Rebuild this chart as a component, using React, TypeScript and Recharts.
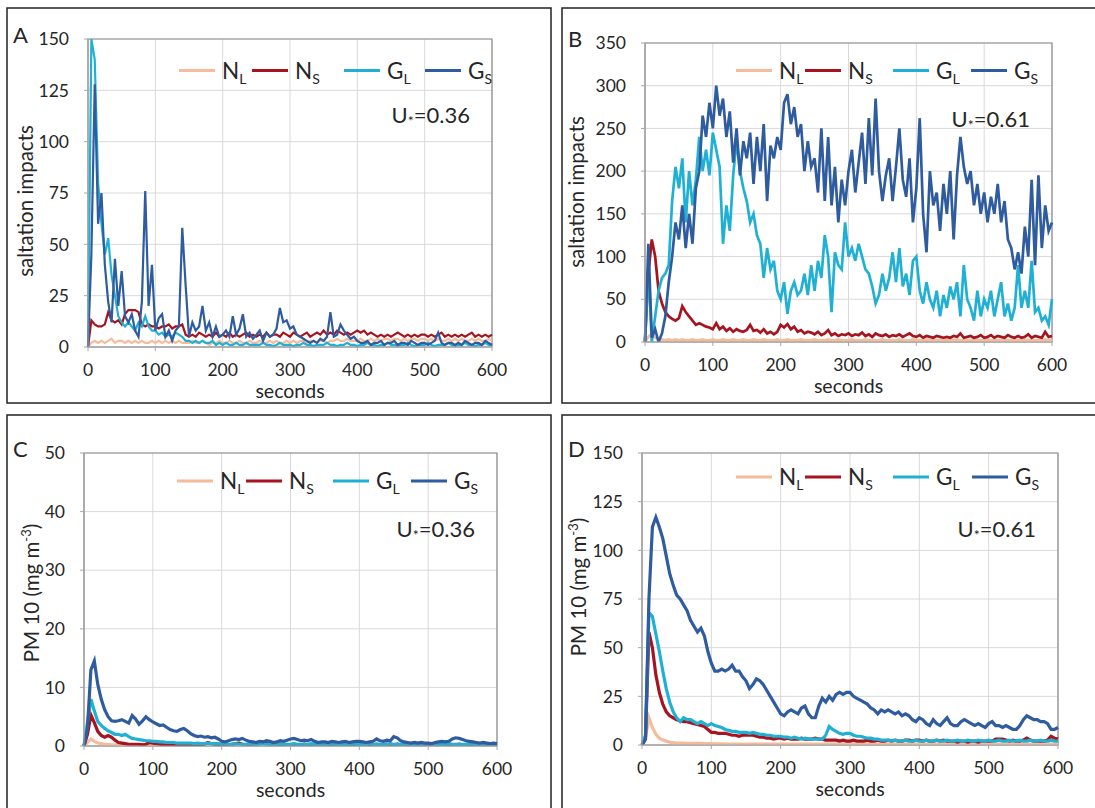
import { LineChart, Line, XAxis, YAxis, CartesianGrid, ReferenceArea } from 'recharts'

// sampled every 5 s, 0..600
const STEP = 5
const secondTicks = [0, 100, 200, 300, 400, 500, 600]

const seriesNames = ['N', 'N', 'G', 'G']
const seriesSubs = ['L', 'S', 'L', 'S']
const seriesColors = ['#F5BC9C', '#A6151F', '#20B0D4', '#2F5C9F']

// A: saltation impacts, U* = 0.36
const impactTicksA = [0, 25, 50, 75, 100, 125, 150]
const impactsA_NL = [
  0, 2, 3, 2, 3, 2, 3, 4, 2, 3,
  3, 2, 3, 2, 3, 2, 3, 2, 2, 3,
  2, 3, 2, 3, 2, 3, 2, 3, 2, 2,
  2, 3, 2, 2, 3, 2, 1, 2, 2, 3,
  2, 2, 3, 2, 2, 3, 2, 2, 3, 2,
  2, 3, 2, 2, 3, 2, 3, 2, 2, 3,
  2, 3, 2, 3, 3, 2, 3, 3, 2, 3,
  3, 2, 3, 3, 4, 3, 3, 4, 3, 3,
  3, 4, 3, 3, 4, 3, 4, 3, 4, 4,
  3, 4, 4, 3, 4, 3, 4, 4, 3, 4,
  4, 3, 4, 3, 4, 3, 3, 4, 3, 4,
  3, 4, 3, 3, 4, 3, 4, 3, 3, 4,
  3,
]
const impactsA_NS = [
  0, 13, 11, 10, 10, 11, 17, 13, 12, 13,
  11, 16, 18, 18, 18, 17, 11, 10, 11, 10,
  10, 9, 10, 10, 11, 9, 10, 10, 11, 6,
  5, 6, 5, 7, 6, 5, 6, 5, 7, 5,
  6, 5, 7, 5, 6, 5, 6, 7, 5, 6,
  5, 6, 5, 7, 5, 6, 6, 5, 7, 6,
  5, 7, 6, 5, 6, 7, 5, 6, 7, 6,
  8, 6, 7, 6, 8, 7, 6, 7, 6, 7,
  8, 7, 8, 6, 7, 6, 5, 6, 5, 6,
  5, 6, 7, 6, 5, 6, 5, 6, 5, 6,
  6, 5, 6, 5, 6, 7, 5, 6, 5, 6,
  5, 6, 5, 6, 7, 5, 6, 5, 6, 5,
  6,
]
const impactsA_GL = [
  0, 150, 140, 80, 60, 45, 53, 35, 25, 15,
  12, 10, 12, 10, 8, 12, 10, 15, 10, 8,
  8, 6, 7, 5, 6, 5, 7, 6, 5, 3,
  3, 2, 3, 2, 3, 2, 2, 3, 1, 2,
  1, 2, 1, 1, 2, 1, 1, 2, 1, 1,
  1, 1, 2, 1, 1, 0.5, 1, 2, 1, 1,
  1, 0.5, 1, 1, 2, 1, 1, 0.5, 1, 1,
  1, 2, 1, 1, 0.5, 1, 1, 2, 1, 1,
  0.5, 1, 1, 2, 1, 1, 0.5, 1, 1, 2,
  1, 1, 0.5, 1, 1, 2, 1, 0.5, 1, 1,
  1, 2, 1, 0.5, 1, 1, 1, 2, 1, 0.5,
  1, 1, 2, 1, 1, 0.5, 1, 1, 2, 1,
  1,
]
const impactsA_GS = [
  0, 45, 128, 60, 75, 40, 22, 12, 43, 20,
  37, 15, 12, 16, 8, 5, 22, 76, 20, 40,
  8, 14, 16, 5, 8, 3, 8, 10, 58, 30,
  5, 12, 8, 10, 20, 8, 12, 5, 10, 5,
  6, 8, 5, 15, 6, 9, 16, 5, 7, 4,
  6, 8, 3, 7, 5, 6, 9, 19, 12, 13,
  9, 10, 6, 5, 4, 3, 2, 3, 2, 4,
  3, 5, 17, 5, 6, 11, 8, 6, 4, 5,
  3, 2, 2, 3, 1, 2, 2, 3, 1, 2,
  2, 3, 1, 2, 2, 1, 3, 2, 1, 2,
  2, 1, 2, 3, 7, 2, 1, 2, 2, 1,
  2, 1, 3, 2, 1, 2, 2, 1, 3, 2,
  1,
]

// B: saltation impacts, U* = 0.61
const impactTicksB = [0, 50, 100, 150, 200, 250, 300, 350]
const impactsB_NL = [
  0, 6, 10, 5, 3, 3, 2, 3, 2, 3,
  2, 3, 2, 2, 3, 2, 2, 3, 2, 2,
  3, 2, 2, 3, 2, 2, 3, 2, 2, 3,
  2, 2, 3, 2, 2, 3, 2, 2, 2, 3,
  2, 2, 3, 2, 2, 2, 3, 2, 2, 2,
  3, 2, 2, 2, 3, 2, 2, 3, 2, 2,
  2, 3, 2, 2, 2, 3, 2, 2, 2, 2,
  3, 2, 2, 2, 2, 3, 2, 2, 2, 3,
  2, 2, 2, 3, 2, 2, 2, 2, 3, 2,
  2, 2, 3, 2, 2, 2, 2, 3, 2, 2,
  2, 3, 2, 2, 2, 2, 3, 2, 2, 2,
  2, 2, 3, 2, 2, 2, 2, 2, 3, 2,
  2,
]
const impactsB_NS = [
  0, 80, 120, 100, 60, 45, 35, 30, 27, 25,
  28, 42, 35, 30, 25, 20, 22, 20, 18, 17,
  15, 22, 15, 18, 13, 16, 12, 15, 13, 12,
  14, 20, 13, 14, 11, 15, 10, 12, 9, 12,
  20, 17, 21, 15, 18, 12, 14, 10, 12, 11,
  9, 12, 8, 10, 14, 8, 10, 7, 9, 8,
  10, 7, 9, 8, 11, 7, 9, 6, 10, 8,
  7, 9, 6, 8, 7, 9, 6, 8, 10, 7,
  6, 8, 5, 7, 6, 5, 7, 6, 5, 6,
  5, 7, 6, 10, 5, 6, 7, 5, 6, 8,
  5, 6, 8, 5, 7, 6, 5, 8, 6, 5,
  7, 5, 6, 9, 5, 7, 6, 5, 12, 6,
  7,
]
const impactsB_GL = [
  0, 90, 0, 30, 60, 75, 80, 90, 165, 205,
  180, 215, 140, 200, 160, 190, 240, 200, 225, 195,
  245, 225, 205, 115, 160, 130, 195, 236, 200, 180,
  165, 140, 150, 125, 115, 75, 110, 85, 95, 60,
  50, 70, 33, 60, 70, 55, 60, 80, 55, 90,
  60, 95, 75, 125, 100, 35, 105, 90, 85, 140,
  100, 110, 95, 115, 100, 85, 80, 65, 45, 55,
  80, 60, 75, 105, 70, 110, 65, 80, 55, 95,
  100, 60, 45, 70, 50, 40, 60, 30, 55, 40,
  65, 50, 70, 30, 90, 50, 40, 25, 60, 30,
  50, 40, 60, 30, 50, 70, 30, 45, 25, 40,
  90, 40, 60, 40, 95, 35, 40, 25, 30, 20,
  50,
]
const impactsB_GS = [
  0, 115, 5, 15, 0, 10, 30, 70, 100, 140,
  120, 160, 110, 150, 115, 180, 200, 265, 240, 280,
  250, 300, 265, 285, 240, 270, 210, 250, 195, 235,
  215, 245, 185, 240, 200, 255, 165, 230, 215, 240,
  225, 280, 290, 255, 275, 240, 255, 200, 235, 205,
  215, 175, 250, 165, 240, 160, 205, 140, 190, 160,
  200, 225, 175, 210, 245, 185, 262, 195, 285, 200,
  165, 195, 215, 165, 205, 250, 190, 170, 215, 140,
  180, 262, 150, 105, 200, 160, 175, 130, 185, 150,
  200, 120, 195, 240, 205, 185, 200, 160, 185, 150,
  175, 140, 170, 150, 185, 140, 165, 120, 110, 85,
  105, 80, 135, 100, 190, 90, 195, 110, 160, 130,
  140,
]

// C: PM10, U* = 0.36
const pmTicksC = [0, 10, 20, 30, 40, 50]
const pmC_NL = [
  0, 0.6, 1.2, 0.8, 0.5, 0.4, 0.3, 0.3, 0.2, 0.2,
  0.2, 0.2, 0.3, 0.2, 0.2, 0.2, 0.2, 0.3, 0.2, 0.2,
  0.2, 0.2, 0.2, 0.3, 0.2, 0.2, 0.2, 0.2, 0.2, 0.3,
  0.2, 0.2, 0.2, 0.2, 0.3, 0.2, 0.2, 0.2, 0.2, 0.2,
  0.3, 0.2, 0.2, 0.2, 0.2, 0.2, 0.3, 0.2, 0.2, 0.2,
  0.2, 0.2, 0.3, 0.2, 0.2, 0.2, 0.2, 0.2, 0.3, 0.2,
  0.2, 0.2, 0.2, 0.2, 0.3, 0.2, 0.2, 0.2, 0.2, 0.2,
  0.3, 0.2, 0.2, 0.2, 0.2, 0.2, 0.3, 0.2, 0.2, 0.2,
  0.2, 0.2, 0.3, 0.2, 0.2, 0.2, 0.2, 0.2, 0.3, 0.2,
  0.2, 0.2, 0.2, 0.2, 0.3, 0.2, 0.2, 0.2, 0.2, 0.2,
  0.3, 0.2, 0.2, 0.2, 0.2, 0.2, 0.3, 0.2, 0.2, 0.2,
  0.2, 0.2, 0.3, 0.2, 0.2, 0.2, 0.2, 0.2, 0.3, 0.2,
  0.2,
]
const pmC_NS = [
  0, 2, 5.3, 4, 2.5, 1.8, 1.5, 1.8, 1.5, 1,
  0.6, 0.5, 0.4, 0.3, 0.3, 0.3, 0.3, 0.2, 0.3, 0.6,
  0.5, 0.4, 0.3, 0.2, 0.2, 0.3, 0.2, 0.2, 0.3, 0.2,
  0.2, 0.2, 0.3, 0.2, 0.2, 0.3, 0.6, 0.4, 0.3, 0.2,
  0.2, 0.3, 0.2, 0.3, 0.4, 0.5, 0.3, 0.2, 0.3, 0.2,
  0.3, 0.4, 0.7, 0.4, 0.3, 0.2, 0.2, 0.3, 0.2, 0.2,
  0.2, 0.3, 0.2, 0.2, 0.3, 0.2, 0.2, 0.3, 0.2, 0.2,
  0.3, 0.2, 0.2, 0.3, 0.2, 0.2, 0.3, 0.2, 0.2, 0.3,
  0.2, 0.2, 0.3, 0.2, 0.2, 0.3, 0.2, 0.2, 0.3, 0.2,
  0.2, 0.3, 0.2, 0.2, 0.3, 0.2, 0.2, 0.3, 0.2, 0.2,
  0.3, 0.2, 0.2, 0.3, 0.2, 0.2, 0.3, 0.2, 0.2, 0.3,
  0.2, 0.2, 0.3, 0.2, 0.2, 0.3, 0.2, 0.2, 0.3, 0.2,
  0.2,
]
const pmC_GL = [
  0, 4, 8, 6, 4.2, 3.5, 3, 2.6, 2.3, 2,
  2, 1.8, 2, 1.6, 1.3, 1.2, 1.1, 1, 0.9, 0.9,
  0.8, 0.8, 0.7, 0.7, 0.6, 0.6, 0.6, 0.5, 0.5, 0.5,
  0.5, 0.5, 0.4, 0.5, 0.4, 0.4, 0.5, 0.4, 0.4, 0.4,
  0.3, 0.4, 0.3, 0.3, 0.4, 0.3, 0.3, 0.3, 0.4, 0.3,
  0.3, 0.3, 0.4, 0.3, 0.3, 0.3, 0.3, 0.4, 0.3, 0.3,
  0.3, 0.4, 0.3, 0.3, 0.3, 0.3, 0.4, 0.3, 0.3, 0.3,
  0.3, 0.3, 0.4, 0.3, 0.3, 0.3, 0.3, 0.3, 0.4, 0.3,
  0.3, 0.3, 0.3, 0.4, 0.3, 0.3, 0.3, 0.3, 0.3, 0.4,
  0.3, 0.3, 0.3, 0.3, 0.4, 0.3, 0.3, 0.3, 0.3, 0.3,
  0.4, 0.3, 0.3, 0.3, 0.3, 0.3, 0.4, 0.3, 0.3, 0.3,
  0.3, 0.3, 0.4, 0.3, 0.3, 0.3, 0.3, 0.3, 0.3, 0.3,
  0.3,
]
const pmC_GS = [
  0, 3, 13, 14.5, 10.5, 8, 6.2, 5, 4.3, 4.2,
  4.3, 4.5, 4.2, 3.9, 5.2, 4.6, 3.7, 4.3, 5, 4.5,
  4.1, 3.8, 3.5, 3.6, 3.2, 2.8, 2.6, 2.5, 2.8, 3,
  2.6, 2.1, 1.8, 1.6, 1.7, 1.5, 1.6, 1.4, 1.5, 1.2,
  0.8, 0.7, 0.9, 1.1, 1.2, 1.1, 1.3, 1, 0.8, 0.7,
  0.6, 0.8, 0.7, 0.9, 0.8, 0.6, 0.7, 0.9, 0.8, 1,
  1.2, 1.3, 1.1, 0.9, 1, 0.9, 1.1, 0.8, 0.6, 0.7,
  0.7, 0.6, 0.8, 0.7, 0.6, 0.7, 0.8, 0.6, 0.7, 0.8,
  0.8, 0.7, 0.6, 0.7, 0.8, 1.2, 0.9, 0.8, 1, 0.9,
  1.6, 1.4, 0.9, 0.7, 0.6, 0.5, 0.6, 0.5, 0.6, 0.5,
  0.5, 0.4, 0.6, 0.7, 0.8, 0.7, 0.8, 1.2, 1.4, 1.3,
  1.1, 0.9, 0.8, 0.7, 0.6, 0.5, 0.6, 0.5, 0.4, 0.5,
  0.4,
]

// D: PM10, U* = 0.61
const pmTicksD = [0, 25, 50, 75, 100, 125, 150]
const pmD_NL = [
  0, 4, 14, 9, 5.5, 3.5, 2.5, 2, 1.5, 1.2,
  1, 1, 1, 0.9, 0.9, 0.8, 0.8, 0.8, 0.7, 0.7,
  0.7, 0.6, 0.6, 0.6, 0.6, 0.5, 0.5, 0.5, 0.5, 0.5,
  0.5, 0.5, 0.4, 0.5, 0.5, 0.4, 0.5, 0.4, 0.5, 0.4,
  0.4, 0.5, 0.4, 0.4, 0.5, 0.4, 0.4, 0.4, 0.5, 0.4,
  0.4, 0.4, 0.5, 0.4, 0.4, 0.4, 0.4, 0.5, 0.4, 0.4,
  0.4, 0.4, 0.4, 0.5, 0.4, 0.4, 0.4, 0.4, 0.4, 0.5,
  0.4, 0.4, 0.4, 0.4, 0.5, 0.4, 0.4, 0.4, 0.4, 0.4,
  0.5, 0.4, 0.4, 0.4, 0.4, 0.4, 0.5, 0.4, 0.4, 0.4,
  0.4, 0.4, 0.5, 0.4, 0.4, 0.4, 0.4, 0.4, 0.5, 0.4,
  0.4, 0.4, 0.4, 0.4, 0.5, 0.4, 0.4, 0.4, 0.4, 0.4,
  0.5, 0.4, 0.4, 0.4, 0.4, 0.4, 0.5, 0.4, 0.4, 0.4,
  0.4,
]
const pmD_NS = [
  0, 3, 58, 50, 36, 27, 21, 17, 15, 14,
  13, 12.5, 12, 12, 11.5, 11, 10.5, 10, 9.5, 8,
  6.5, 6.5, 6, 6, 6, 5.5, 5, 5, 4.5, 5,
  5, 5, 5, 4.5, 4, 4, 3.5, 3.5, 3, 3.5,
  3.5, 3, 3.5, 3, 3, 3, 3.5, 3, 3, 3,
  3.5, 3, 3, 2.5, 2.5, 2.5, 2.5, 2, 2.5, 2,
  2, 2.5, 2, 2, 2, 2.5, 2, 2, 2.5, 2,
  2, 2.5, 2, 2.5, 2, 2, 2.5, 2.5, 2, 2.5,
  2.5, 2, 2.5, 2, 2, 2.5, 2, 2.5, 2, 2,
  2, 1.5, 2, 2, 1.5, 2, 2, 1.5, 2, 2,
  2, 2, 3, 3, 3, 2.5, 2, 2.5, 2, 2,
  2.5, 3.5, 2.5, 2, 2, 2, 2, 2.5, 4.5, 3.5,
  3,
]
const pmD_GL = [
  0, 5, 68, 66, 57, 48, 38, 29, 22, 17,
  14, 12, 14, 13, 13, 12, 11, 12, 11, 10,
  11, 10, 9.5, 9, 8, 7.5, 7, 7, 6.5, 6.5,
  6.5, 6, 6.5, 6, 5.5, 5.5, 5, 5, 4.5, 4.5,
  4.5, 4, 4, 3.5, 4, 3.5, 3, 3.5, 3, 3,
  3, 3, 3, 5, 9.5, 8, 7, 6, 5.5, 6,
  6, 5, 4.5, 4.5, 4, 3.5, 3.5, 3, 3, 2.5,
  2.5, 2.5, 2, 2.5, 2, 2, 2.5, 2, 2, 2.5,
  2, 2, 2.5, 2, 2, 2.5, 2, 2, 2.5, 2,
  2, 2.5, 2, 2, 2.5, 2, 2, 2.5, 2, 2,
  2.5, 2, 2, 2.5, 2, 2, 2.5, 2, 2, 2.5,
  2, 2, 2.5, 2, 2, 2.5, 2, 2, 2.5, 2,
  2,
]
const pmD_GS = [
  0, 3, 75, 112, 117, 112, 106, 97, 88, 82,
  77, 75, 72, 69, 64, 61, 58, 60, 56, 48,
  42, 38, 38, 39, 38, 39, 41, 38, 38, 35,
  33, 29, 31, 34, 33, 31, 28, 25, 22, 19,
  16, 15, 17, 18, 17, 16, 19, 20, 16, 14,
  14, 20, 24, 22, 25, 23, 26, 27, 26, 27,
  27, 25, 24, 23, 22, 21, 19, 18, 16, 18,
  17, 18, 17, 16, 17, 15, 16, 15, 13, 12,
  14, 13, 11, 10, 13, 11, 10, 12, 14, 11,
  10, 10, 12, 13, 12, 11, 10, 11, 10, 9,
  11, 12, 10, 10, 9, 10, 9, 8, 8, 10,
  13, 15, 14, 13, 13, 12, 12, 11, 8, 8,
  9,
]

const FONT = 'Lato, "Open Sans", sans-serif'
const INK = '#262626'

type Rect = { x: number; y: number; w: number; h: number }
type PanelProps = {
  letter: string
  ustar: string
  yTitle: 'impacts' | 'pm'
  yTicks: number[]
  series: number[][]
  box: Rect
  plot: { l: number; r: number; t: number; b: number }
  titleAt: [number, number]
  legendX: number[]
  legendY: number
  lineWidth: number
}

function buildRows(series: number[][]) {
  return series[0].map((_, i) => ({
    t: i * STEP,
    nl: series[0][i],
    ns: series[1][i],
    gl: series[2][i],
    gs: series[3][i],
  }))
}

const keys = ['nl', 'ns', 'gl', 'gs']

function Panel(p: PanelProps) {
  const data = buildRows(p.series)
  const yMax = p.yTicks[p.yTicks.length - 1]
  const chartH = Math.min(p.box.h, 808 - p.box.y)
  const chartW = Math.min(p.box.w, 1095 - p.box.x)
  const margin = {
    left: p.plot.l - p.box.x - 60,
    right: p.box.x + chartW - p.plot.r,
    top: p.plot.t - p.box.y,
    bottom: p.box.y + chartH - p.plot.b - 40,
  }
  const tick = { fontSize: 17.5, fill: INK, fontFamily: FONT }
  return (
    <div style={{ position: 'absolute', left: p.box.x, top: p.box.y }}>
      <LineChart width={chartW} height={chartH} data={data} margin={margin}>
        <CartesianGrid stroke="#d9d9d9" />
        <XAxis
          dataKey="t"
          type="number"
          domain={[0, 600]}
          ticks={secondTicks}
          interval={0}
          height={40}
          tick={tick}
          tickSize={4}
          tickMargin={13}
          stroke="#a6a6a6"
        />
        <YAxis
          type="number"
          domain={[0, yMax]}
          ticks={p.yTicks}
          interval={0}
          allowDataOverflow
          width={60}
          tick={tick}
          tickSize={4}
          tickMargin={15}
          stroke="#a6a6a6"
        />
        <ReferenceArea x1={0} x2={600} y1={0} y2={yMax} fill="none" stroke="#8c8c8c" strokeWidth={1.2} />
        {keys.map((k, i) => (
          <Line
            key={k}
            dataKey={k}
            type="linear"
            stroke={seriesColors[i]}
            strokeWidth={p.lineWidth}
            dot={false}
            activeDot={false}
            isAnimationActive={false}
          />
        ))}
      </LineChart>
    </div>
  )
}

function PanelText(p: PanelProps) {
  const cx = (p.plot.l + p.plot.r) / 2
  const [tx, ty] = p.titleAt
  return (
    <g fontFamily={FONT} fill={INK}>
      <rect x={p.box.x} y={p.box.y} width={p.box.w} height={p.box.h} fill="none" stroke="#222" strokeWidth={1.5} />
      <text x={p.box.x + 6} y={p.plot.t + 4} fontSize={22}>{p.letter}</text>
      {seriesNames.map((n, i) => (
        <g key={i}>
          <line x1={p.legendX[i]} x2={p.legendX[i] + 36} y1={p.legendY} y2={p.legendY} stroke={seriesColors[i]} strokeWidth={3} />
          <text x={p.legendX[i] + 43} y={p.legendY + 8} fontSize={22.5}>
            {n}
            <tspan fontSize={14} dy={5}>{seriesSubs[i]}</tspan>
          </text>
        </g>
      ))}
      <text x={p.plot.r - 22} y={p.plot.t + 84} fontSize={22} textAnchor="end">
        U<tspan fontSize={14} dy={3}>*</tspan>
        <tspan dy={-3}>={p.ustar}</tspan>
      </text>
      <text transform={`translate(${tx},${ty}) rotate(-90)`} textAnchor="middle" fontSize={20.5}>
        {p.yTitle === 'impacts' ? (
          'saltation impacts'
        ) : (
          <>
            PM 10 (mg m<tspan fontSize={13} dy={-8}>-3</tspan>
            <tspan dy={8}>)</tspan>
          </>
        )}
      </text>
      <text x={cx} y={p.plot.b + 51} textAnchor="middle" fontSize={19.5}>seconds</text>
    </g>
  )
}

const panels: PanelProps[] = [
  {
    letter: 'A', ustar: '0.36', yTitle: 'impacts', yTicks: impactTicksA,
    series: [impactsA_NL, impactsA_NS, impactsA_GL, impactsA_GS],
    box: { x: 7, y: 8, w: 544, h: 395 },
    plot: { l: 88, r: 492, t: 39, b: 347 },
    titleAt: [33, 201],
    legendX: [179, 252, 344, 425], legendY: 70.5, lineWidth: 2.2,
  },
  {
    letter: 'B', ustar: '0.61', yTitle: 'impacts', yTicks: impactTicksB,
    series: [impactsB_NL, impactsB_NS, impactsB_GL, impactsB_GS],
    box: { x: 562, y: 8, w: 560, h: 395 },
    plot: { l: 645, r: 1052, t: 43, b: 342 },
    titleAt: [584, 192],
    legendX: [736, 805, 893, 971], legendY: 70.5, lineWidth: 2.7,
  },
  {
    letter: 'C', ustar: '0.36', yTitle: 'pm', yTicks: pmTicksC,
    series: [pmC_NL, pmC_NS, pmC_GL, pmC_GS],
    box: { x: 7, y: 415, w: 544, h: 420 },
    plot: { l: 84, r: 497, t: 453, b: 746 },
    titleAt: [39, 593],
    legendX: [177, 246, 333, 411], legendY: 481, lineWidth: 3.2,
  },
  {
    letter: 'D', ustar: '0.61', yTitle: 'pm', yTicks: pmTicksD,
    series: [pmD_NL, pmD_NS, pmD_GL, pmD_GS],
    box: { x: 562, y: 415, w: 560, h: 420 },
    plot: { l: 642, r: 1058, t: 453, b: 745 },
    titleAt: [586, 587],
    legendX: [736, 805, 893, 972], legendY: 477, lineWidth: 3.2,
  },
]

export default function App() {
  return (
    <div
      style={{
        position: 'absolute', left: 0, top: 0, width: 1095, height: 808,
        overflow: 'hidden', background: '#fff', fontFamily: FONT,
      }}
    >
      {panels.map((p) => (
        <Panel key={p.letter} {...p} />
      ))}
      <svg width={1095} height={808} style={{ position: 'absolute', left: 0, top: 0, pointerEvents: 'none' }}>
        {panels.map((p) => (
          <PanelText key={p.letter} {...p} />
        ))}
      </svg>
    </div>
  )
}
